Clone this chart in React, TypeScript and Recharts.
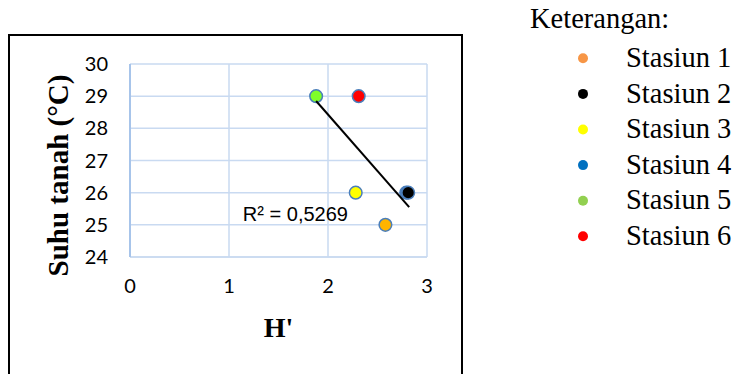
import {
  ScatterChart,
  Scatter,
  XAxis,
  YAxis,
  CartesianGrid,
  ReferenceDot,
} from 'recharts';

const stationNames = ['Stasiun 1', 'Stasiun 2', 'Stasiun 3', 'Stasiun 4', 'Stasiun 5', 'Stasiun 6'];
const hIndex = [2.58, 2.81, 2.28, 2.79, 1.88, 2.31];
const soilTemp = [25, 26, 26, 26, 29, 29];
const markerColors = ['#FFB400', '#000000', '#FFFF00', '#4F81BD', '#7FFF2A', '#FF0000'];
const legendColors = ['#F79646', '#000000', '#FFFF00', '#0070C0', '#92D050', '#FF0000'];
// urutan gambar: stasiun 4 di bawah stasiun 2
const drawOrder = [0, 3, 1, 2, 4, 5];

const trendH = [1.88, 2.82];
const trendTemp = [28.85, 25.55];
const r2Text = 'R² = 0,5269';
const r2Pos = { x: 1.14, y: 25.13 };

const xTicks = [0, 1, 2, 3];
const yTicks = [24, 25, 26, 27, 28, 29, 30];

const gridColor = '#C9DAF1';
const tickFont = { fontSize: 20, fill: '#000', fontFamily: 'Lato' };

const trendData = trendH.map((h, i) => ({ h, t: trendTemp[i] }));

const Dot = (color: string) => (props: any) => (
  <circle cx={props.cx} cy={props.cy} r={6.3} fill={color} stroke="#4A7EBB" strokeWidth={1.5} />
);

const App = () => {
  return (
    <div
      style={{
        position: 'fixed',
        left: 0,
        top: 0,
        width: 734,
        height: 374,
        overflow: 'hidden',
        background: '#fff',
      }}
    >
      {/* kotak luar grafik */}
      <div
        style={{
          position: 'absolute',
          left: 8,
          top: 34,
          width: 451,
          height: 400,
          border: '2px solid #000',
        }}
      />

      <div style={{ position: 'absolute', left: 0, top: 0 }}>
        <ScatterChart width={734} height={374} margin={{ top: 64, right: 307, left: 0, bottom: 17 }}>
          <CartesianGrid stroke={gridColor} strokeWidth={1.5} />
          <XAxis
            type="number"
            dataKey="h"
            domain={[0, 3]}
            ticks={xTicks}
            height={100}
            tick={tickFont}
            tickLine={false}
            tickSize={0}
            tickMargin={22}
            axisLine={{ stroke: gridColor, strokeWidth: 1.5 }}
            label={{
              content: (p: any) => (
                <text
                  x={p.viewBox.x + p.viewBox.width / 2}
                  y={p.viewBox.y + 80}
                  textAnchor="middle"
                  fontFamily="Liberation Serif"
                  fontWeight="bold"
                  fontSize={28}
                  fill="#000"
                >
                  H'
                </text>
              ),
            }}
          />
          <YAxis
            type="number"
            dataKey="t"
            domain={[24, 30]}
            ticks={yTicks}
            width={130}
            tick={tickFont}
            tickLine={false}
            tickSize={0}
            tickMargin={22}
            axisLine={{ stroke: '#A7C4EA', strokeWidth: 2 }}
            label={{
              content: (p: any) => {
                const cx = p.viewBox.x + 68;
                const cy = p.viewBox.y + p.viewBox.height / 2 + 15;
                return (
                  <text
                    transform={`translate(${cx},${cy}) rotate(-90)`}
                    textAnchor="middle"
                    fontFamily="Liberation Serif"
                    fontWeight="bold"
                    fontSize={29}
                    fill="#000"
                  >
                    Suhu tanah (°C)
                  </text>
                );
              },
            }}
          />
          {drawOrder.map((i) => (
            <Scatter
              key={stationNames[i]}
              name={stationNames[i]}
              data={[{ h: hIndex[i], t: soilTemp[i] }]}
              shape={Dot(markerColors[i])}
              isAnimationActive={false}
            />
          ))}
          <Scatter
            name="trend"
            data={trendData}
            line={{ stroke: '#000', strokeWidth: 2 }}
            shape={() => <g />}
            isAnimationActive={false}
          />
          <ReferenceDot
            x={r2Pos.x}
            y={r2Pos.y}
            r={0}
            stroke="none"
            fill="none"
            label={{
              content: (p: any) => (
                <text
                  x={p.viewBox.x}
                  y={p.viewBox.y}
                  fontFamily="Liberation Sans"
                  fontSize={20}
                  fill="#000"
                >
                  {r2Text}
                </text>
              ),
            }}
          />
        </ScatterChart>
      </div>

      {/* keterangan */}
      <svg
        width={734}
        height={374}
        style={{ position: 'absolute', left: 0, top: 0, pointerEvents: 'none' }}
      >
        <text x={530} y={28} fontFamily="Liberation Serif" fontSize={28.5} fill="#000">
          Keterangan:
        </text>
        {stationNames.map((name, i) => (
          <g key={name}>
            <circle cx={583} cy={58.3 + i * 35.6} r={5} fill={legendColors[i]} />
            <text x={626} y={67 + i * 35.6} fontFamily="Liberation Serif" fontSize={28.5} fill="#000">
              {name}
            </text>
          </g>
        ))}
      </svg>
    </div>
  );
};

export default App;
